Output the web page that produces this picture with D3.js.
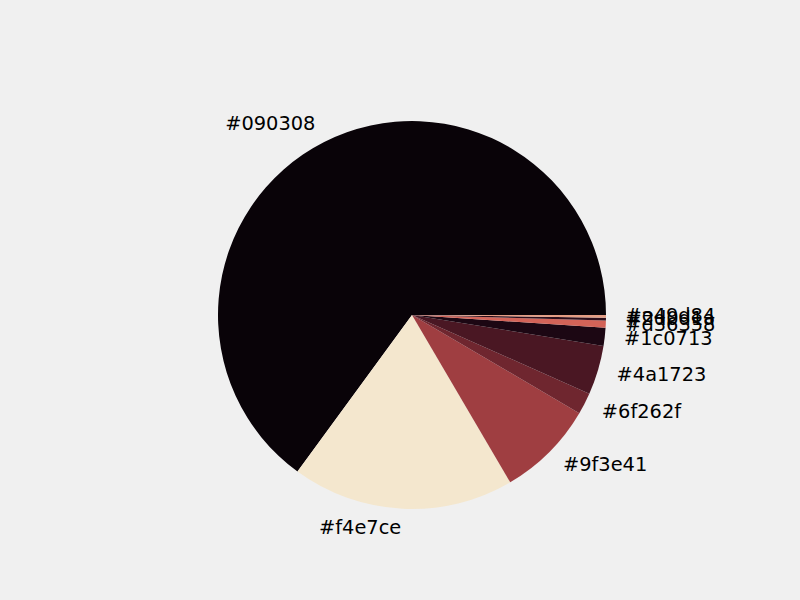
<!DOCTYPE html>
<html><head><meta charset="utf-8">
<script src="https://cdn.jsdelivr.net/npm/d3@7"></script>
<style>body{margin:0;background:#f0f0f0;}svg{display:block;}</style>
</head><body>
<svg id="c" width="800" height="600"></svg>
<script>
const labels = ["#090308","#f4e7ce","#9f3e41","#6f262f","#4a1723","#1c0713","#d36358","#2d0d1a","#e49d84"];
const colors = ["#090308","#f4e7ce","#9f3e41","#6f262f","#4a1723","#1c0713","#d36358","#2d0d1a","#e49d84"];
const values = [64.95, 18.5, 8.1, 1.8, 4.1, 1.5, 0.6, 0.23, 0.22];

const svg = d3.select("#c");
svg.append("rect").attr("width",800).attr("height",600).attr("fill","#f0f0f0");
const cx = 412, cy = 315, r = 194;
const data = values.map((v,i)=>({v, label: labels[i], color: colors[i]}));
const pie = d3.pie().value(d=>d.v).sort(null)
  .startAngle(Math.PI/2).endAngle(Math.PI/2 - 2*Math.PI);
const arcs = pie(data);
const arc = d3.arc().innerRadius(0).outerRadius(r);
const g = svg.append("g").attr("transform",`translate(${cx},${cy})`);
g.selectAll("path").data(arcs).join("path")
  .attr("d", arc).attr("fill", d=>d.data.color);
g.selectAll("text").data(arcs).join("text")
  .each(function(d){
    const a = (d.startAngle + d.endAngle)/2;
    const x = 1.1*r*Math.sin(a), y = -1.1*r*Math.cos(a);
    d3.select(this).attr("x", x).attr("y", y - 1)
      .attr("text-anchor", x >= 0 ? "start" : "end")
      .attr("dominant-baseline","central");
  })
  .attr("font-family","DejaVu Sans").attr("font-size","19.4px").attr("fill","#000")
  .text(d=>d.data.label);
</script>
</body></html>
